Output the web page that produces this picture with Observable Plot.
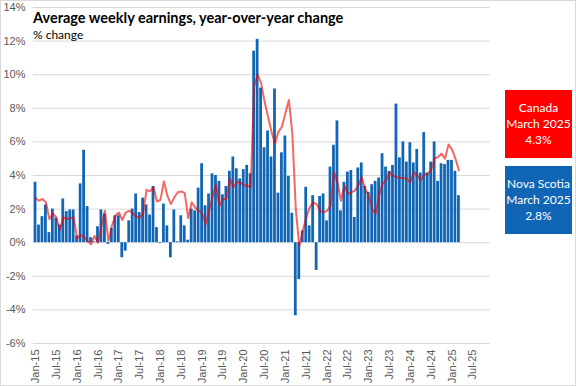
<!DOCTYPE html>
<html><head><meta charset="utf-8">
<script src="https://cdn.jsdelivr.net/npm/d3@7"></script>
<script src="https://cdn.jsdelivr.net/npm/@observablehq/plot@0.6"></script>
<style>
html,body{margin:0;padding:0;background:#fff;}
#wrap{position:relative;width:576px;height:386px;overflow:hidden;}
#chart svg{position:absolute;left:0;top:0;}
.frame{position:absolute;left:0;top:0;width:574px;height:384px;border:1px solid #d9d9d9;pointer-events:none;}
#title{position:absolute;left:33px;top:11px;font:bold 14.5px Lato;line-height:14px;color:#000;white-space:nowrap;}
#subtitle{position:absolute;left:33px;top:28.5px;font:12px Lato;line-height:11px;color:#000;white-space:nowrap;}
.box{position:absolute;left:505px;width:67px;height:68px;color:#fff;font:12px Lato;line-height:16px;display:flex;flex-direction:column;justify-content:center;align-items:center;text-align:center;}
</style>
</head><body>
<div id="wrap">
  <div id="chart"></div>
  <div id="title">Average weekly earnings, year-over-year change</div>
  <div id="subtitle">% change</div>
  <div class="box" id="boxCa" style="top:90px;background:#ff0000;"></div>
  <div class="box" id="boxNs" style="top:166px;background:#1065b4;"></div>
  <div class="frame"></div>
</div>
<script>
// Monthly data, Jan-2015 .. Mar-2025 (123 months)
const novaScotia = [
  3.6, 1.05, 1.55, 2.25, 0.6, 2.0, 1.45, 1.05, 2.6, 1.85, 1.95, 1.95,
  0.4, 3.5, 5.5, 2.15, 0.3, 0.05, 0.95, 1.95, 1.7, -0.1, 0.85, 1.6,
  1.6, -0.9, -0.5, 1.3, 2.0, 2.9, 1.8, 2.65, 2.25, 1.65, 3.35, 0.9,
  -0.05, 2.3, 1.0, -0.9, 1.95, 0.05, 1.6, 1.0, 0.15, 2.0, 1.9, 3.25,
  4.7, 2.2, 2.9, 4.1, 4.0, 3.65, 2.85, 3.35, 4.25, 5.1, 4.4, 3.8,
  4.35, 4.6, 4.1, 11.4, 12.1, 9.2, 5.65, 6.65, 5.1, 9.15, 2.95, 5.35,
  6.35, 3.95, 1.75, -4.35, -2.2, 0.7, 3.3, 1.0, 2.8, -1.65, 2.75, 2.9,
  1.3, 4.5, 5.8, 7.25, 1.9, 3.6, 4.2, 4.3, 1.5, 4.45, 4.75, 3.35,
  3.0, 3.45, 3.65, 3.85, 5.3, 4.5, 4.25, 4.6, 8.25, 5.05, 6.0, 4.8,
  5.95, 4.75, 5.55, 4.15, 6.55, 4.15, 4.8, 6.0, 3.65, 4.7, 4.65, 4.9,
  4.9, 4.25, 2.8
];
const canada = [
  2.65, 2.5, 2.6, 2.4, 1.4, 1.75, 1.5, 0.75, 1.5, 1.4, 1.45, 1.5,
  0.25, 0.45, 0.35, 0.1, -0.1, 0.4, 0.0, 1.0, 1.9, 0.1, 1.0, 1.6,
  1.8, 1.35, 1.8, 1.9, 1.75, 1.55, 1.5, 1.75, 3.15, 3.05, 3.3, 2.45,
  2.55, 3.65, 2.8, 2.3, 2.7, 3.0, 3.05, 2.95, 1.45, 2.4, 2.1, 1.9,
  1.75, 1.1, 1.9, 2.7, 3.5, 2.2, 2.6, 2.6, 3.8, 3.3, 3.6, 3.6,
  3.4, 3.4, 3.3, 9.3, 10.0, 9.5, 8.4, 7.5, 6.6, 5.9, 6.6, 6.9,
  7.7, 8.5, 6.5, 2.0, -0.2, 0.7, 1.5, 2.1, 2.4, 2.3, 1.9, 1.8,
  1.9, 2.2, 4.2, 3.6, 2.5, 3.4, 2.9, 3.0, 3.1, 3.4, 3.9, 3.2,
  2.8, 2.0, 1.7, 2.8, 3.5, 3.7, 4.2, 4.0, 3.9, 3.85, 3.85, 3.8,
  3.6, 4.2, 4.0, 3.7, 4.05, 4.1, 4.35, 5.0, 5.1, 5.3, 5.0, 5.85,
  5.55, 5.0, 4.3
];
const tickLabels = ["Jan-15","Jul-15","Jan-16","Jul-16","Jan-17","Jul-17","Jan-18","Jul-18",
  "Jan-19","Jul-19","Jan-20","Jul-20","Jan-21","Jul-21","Jan-22","Jul-22","Jan-23","Jul-23",
  "Jan-24","Jul-24","Jan-25","Jul-25"];
const yTicks = [-6,-4,-2,0,2,4,6,8,10,12,14];
const boxCanada = ["Canada","March 2025","4.3%"];
const boxNovaScotia = ["Nova Scotia","March 2025","2.8%"];

const data = novaScotia.map((v, i) => ({i, ns: v, ca: canada[i]}));
const tickIdx = tickLabels.map((_, k) => k * 6);

const chart = Plot.plot({
  width: 576, height: 386,
  marginLeft: 33, marginRight: 86, marginTop: 7, marginBottom: 43,
  style: {fontFamily: "'Liberation Sans', Arial, sans-serif", fontSize: "11px", color: "#595959", background: "transparent", overflow: "visible"},
  x: {type: "linear", domain: [-0.58, 131.1], ticks: tickIdx, tickFormat: i => tickLabels[Math.round(i / 6)], tickRotate: -90, tickSize: 0, tickPadding: 6, label: null},
  y: {domain: [-6, 14], ticks: yTicks, tickFormat: d => d + "%", tickSize: 0, tickPadding: 8, label: null},
  marks: [
    Plot.ruleY(yTicks, {stroke: "#d9d9d9", strokeWidth: 1}),
    Plot.rectY(data, {x1: d => d.i - 0.5, x2: d => d.i + 0.5, y1: 0, y2: "ns", fill: "#1065b4", insetLeft: 0.35, insetRight: 0.35}),
    Plot.line(data, {x: "i", y: "ca", stroke: "#ee0000", strokeOpacity: 0.6, strokeWidth: 2})
  ]
});
document.getElementById("chart").appendChild(chart);
document.getElementById("boxCa").innerHTML = boxCanada.map(t => `<div>${t}</div>`).join("");
document.getElementById("boxNs").innerHTML = boxNovaScotia.map(t => `<div>${t}</div>`).join("");
</script>
</body></html>
